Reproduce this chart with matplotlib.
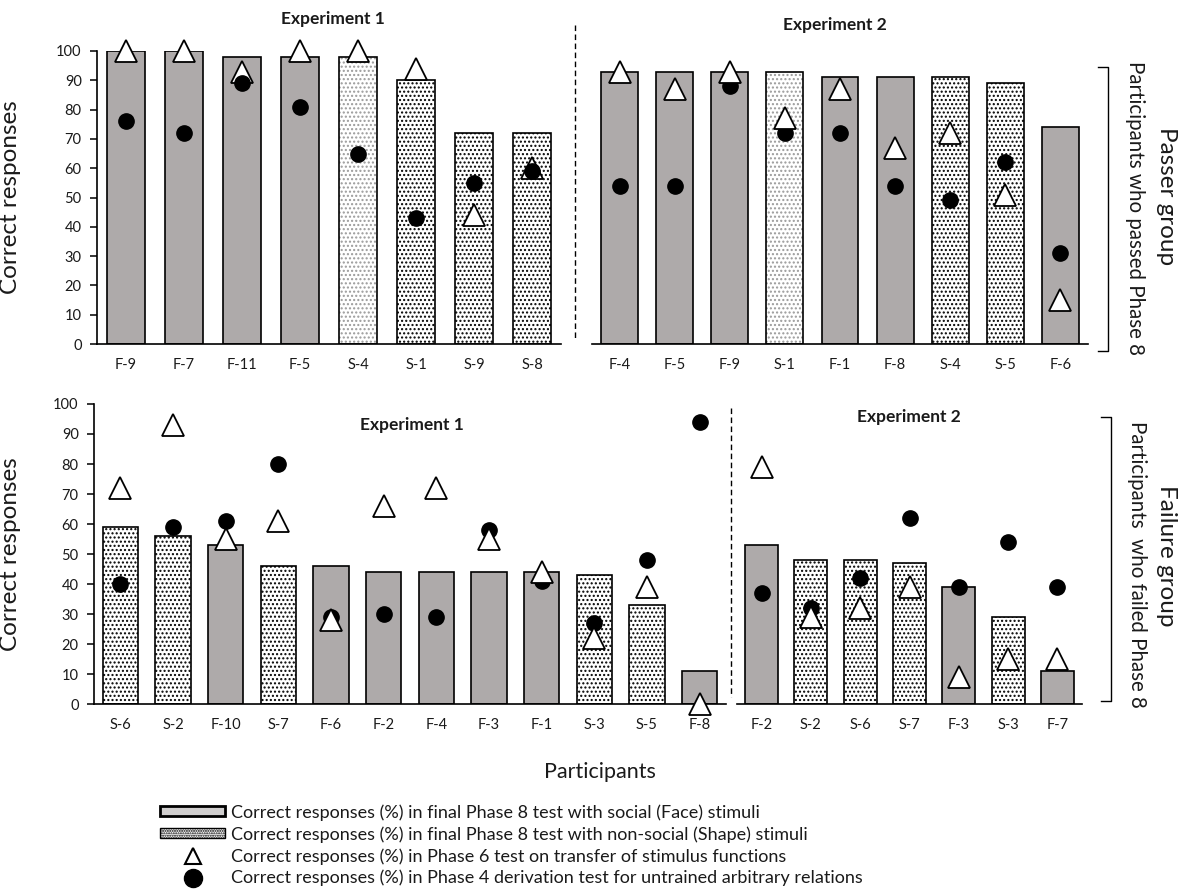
import numpy as np
import matplotlib
matplotlib.use('Agg')
import matplotlib.pyplot as plt
from matplotlib.patches import Patch
from matplotlib.lines import Line2D

plt.rcParams['font.family'] = ['Lato', 'DejaVu Sans']

# passer group (passed Phase 8), experiment 1
pass1_labels = ['F-9', 'F-7', 'F-11', 'F-5', 'S-4', 'S-1', 'S-9', 'S-8']
pass1_phase8 = [100, 100, 98, 98, 98, 90, 72, 72]
pass1_phase6 = [100, 100, 93, 100, 100, 94, 44, 60]
pass1_phase4 = [76, 72, 89, 81, 65, 43, 55, 59]

# passer group, experiment 2
pass2_labels = ['F-4', 'F-5', 'F-9', 'S-1', 'F-1', 'F-8', 'S-4', 'S-5', 'F-6']
pass2_phase8 = [93, 93, 93, 93, 91, 91, 91, 89, 74]
pass2_phase6 = [93, 87, 93, 77, 87, 67, 72, 51, 15]
pass2_phase4 = [54, 54, 88, 72, 72, 54, 49, 62, 31]

# failure group (failed Phase 8), experiment 1
fail1_labels = ['S-6', 'S-2', 'F-10', 'S-7', 'F-6', 'F-2', 'F-4', 'F-3', 'F-1', 'S-3', 'S-5', 'F-8']
fail1_phase8 = [59, 56, 53, 46, 46, 44, 44, 44, 44, 43, 33, 11]
fail1_phase6 = [72, 93, 55, 61, 28, 66, 72, 55, 44, 22, 39, 0]
fail1_phase4 = [40, 59, 61, 80, 29, 30, 29, 58, 41, 27, 48, 94]

# failure group, experiment 2
fail2_labels = ['F-2', 'S-2', 'S-6', 'S-7', 'F-3', 'S-3', 'F-7']
fail2_phase8 = [53, 48, 48, 47, 39, 29, 11]
fail2_phase6 = [79, 29, 32, 39, 9, 15, 15]
fail2_phase4 = [37, 32, 42, 62, 39, 54, 39]

legend_labels = [
    'Correct responses (%) in final Phase 8 test with social (Face) stimuli',
    'Correct responses (%) in final Phase 8 test with non-social (Shape) stimuli',
    'Correct responses (%) in Phase 6 test on transfer of stimulus functions',
    'Correct responses (%) in Phase 4 derivation test for untrained arbitrary relations',
]

W, H = 1182, 894
face_grey = '#aeaaaa'
txt = '#1a1a1a'


def fx(px):
    return px / W


def fy(py):
    return 1 - py / H


def draw_panel(ax, labels, phase8, phase6, phase4, light=(), tri_top=True, yaxis=True):
    x = np.arange(len(labels))
    for i, lab in enumerate(labels):
        if lab.startswith('F'):
            ax.bar(x[i], phase8[i], width=0.67, color=face_grey,
                   edgecolor='black', linewidth=1.2, zorder=2)
        else:
            dotc = '#9a9a9a' if lab in light else 'black'
            ax.bar(x[i], phase8[i], width=0.67, color='white', edgecolor=dotc,
                   hatch='....', linewidth=0, zorder=2)
            ax.bar(x[i], phase8[i], width=0.67, fill=False,
                   edgecolor='black', linewidth=1.2, zorder=2)
    ax.plot(x, phase6, '^', ms=15.5, mfc='white', mec='black', mew=1.3,
            ls='none', clip_on=False, zorder=5 if tri_top else 3)
    ax.plot(x, phase4, 'o', ms=11, color='black', ls='none',
            clip_on=False, zorder=4)
    ax.set_xlim(-0.5, len(labels) - 0.5)
    ax.set_ylim(0, 100)
    ax.set_xticks(x)
    ax.set_xticklabels(labels)
    ax.tick_params(axis='x', length=0, pad=10, labelsize=10.5, labelcolor=txt)
    for s in ['top', 'right']:
        ax.spines[s].set_visible(False)
    ax.spines['bottom'].set_linewidth(1.2)
    if yaxis:
        ax.set_yticks(range(0, 101, 10))
        ax.tick_params(axis='y', length=5, width=1.1, pad=6, labelsize=10.5, labelcolor=txt)
        ax.spines['left'].set_linewidth(1.2)
        ax.set_ylabel('Correct responses', fontsize=17.5, color=txt)
    else:
        ax.spines['left'].set_visible(False)
        ax.set_yticks([])


fig = plt.figure(figsize=(W / 100, H / 100), dpi=100)

ax_tl = fig.add_axes([fx(97), fy(344), (561 - 97) / W, (344 - 51) / H])
ax_tr = fig.add_axes([fx(592), fy(344), (1088 - 592) / W, (344 - 51) / H])
ax_bl = fig.add_axes([fx(94), fy(704), (726 - 94) / W, (704 - 404) / H])
ax_br = fig.add_axes([fx(737), fy(704), (1082 - 737) / W, (704 - 404) / H])

draw_panel(ax_tl, pass1_labels, pass1_phase8, pass1_phase6, pass1_phase4,
           light=('S-4',), tri_top=False)
draw_panel(ax_tr, pass2_labels, pass2_phase8, pass2_phase6, pass2_phase4,
           light=('S-1',), yaxis=False)
draw_panel(ax_bl, fail1_labels, fail1_phase8, fail1_phase6, fail1_phase4)
draw_panel(ax_br, fail2_labels, fail2_phase8, fail2_phase6, fail2_phase4, yaxis=False)

ax_tl.yaxis.set_label_coords(-0.163, 0.5)
ax_bl.yaxis.set_label_coords(-0.115, 0.5)

# experiment titles
fig.text(fx(333), fy(19), 'Experiment 1', ha='center', va='center',
         fontsize=12.5, fontweight='bold', color=txt)
fig.text(fx(835), fy(25), 'Experiment 2', ha='center', va='center',
         fontsize=12.5, fontweight='bold', color=txt)
fig.text(fx(412), fy(425), 'Experiment 1', ha='center', va='center',
         fontsize=12.5, fontweight='bold', color=txt)
fig.text(fx(909), fy(417), 'Experiment 2', ha='center', va='center',
         fontsize=12.5, fontweight='bold', color=txt)

# dashed separators between experiments
fig.add_artist(Line2D([fx(575), fx(575)], [fy(25), fy(338)], transform=fig.transFigure,
                      color='black', lw=1, ls=(0, (4, 2.5))))
fig.add_artist(Line2D([fx(731), fx(731)], [fy(408), fy(697)], transform=fig.transFigure,
                      color='black', lw=1, ls=(0, (4, 2.5))))

# group brackets and labels
for top, bot, xb in [(67, 351, 1108), (417, 701, 1111)]:
    fig.add_artist(Line2D([fx(xb - 10), fx(xb), fx(xb), fx(xb - 10)],
                          [fy(top), fy(top), fy(bot), fy(bot)],
                          transform=fig.transFigure, color='black', lw=1))

fig.text(fx(1135), fy(208), 'Participants who passed Phase 8', rotation=270,
         ha='center', va='center', fontsize=14.8, color=txt)
fig.text(fx(1166), fy(196), 'Passer group', rotation=270,
         ha='center', va='center', fontsize=17.5, color=txt)
fig.text(fx(1137), fy(564), 'Participants  who failed Phase 8', rotation=270,
         ha='center', va='center', fontsize=14.8, color=txt)
fig.text(fx(1166), fy(556), 'Failure group', rotation=270,
         ha='center', va='center', fontsize=17.5, color=txt)

fig.text(fx(600), fy(772), 'Participants', ha='center', va='center',
         fontsize=15.5, color=txt)

handles = [
    Patch(facecolor='#d0cece', edgecolor='black', linewidth=2),
    Patch(facecolor='white', edgecolor='black', hatch='.......', linewidth=1),
    Line2D([], [], marker='^', ms=12, mfc='white', mec='black', mew=1.5, ls='none'),
    Line2D([], [], marker='o', ms=13, color='black', ls='none'),
]
fig.legend(handles, legend_labels, loc='upper left',
           bbox_to_anchor=(fx(160), fy(804)), frameon=False, fontsize=13,
           handlelength=3.6, handleheight=0.5, handletextpad=0.35,
           labelspacing=0.3, borderaxespad=0, borderpad=0, labelcolor=txt)

fig.savefig('out.png', dpi=100)
